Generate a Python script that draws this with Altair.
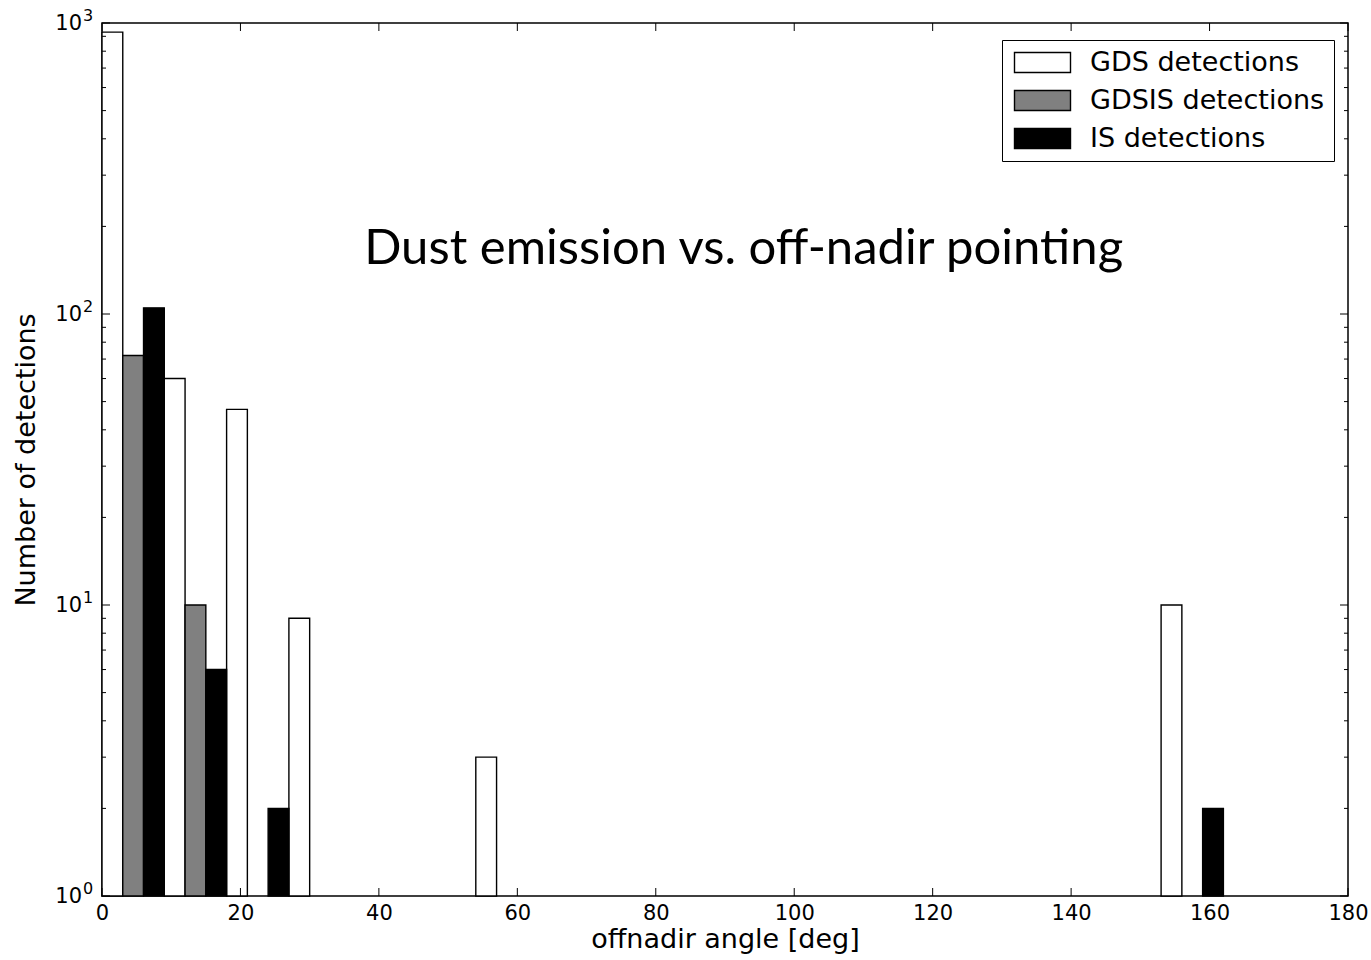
import altair as alt
import pandas as pd

# Histogram of detections per 9-degree off-nadir bin (only non-empty bins listed)
bin_start = [0, 9, 18, 27, 54, 153]
gds_counts = [930, 60, 47, 9, 3, 10]
gdsis_counts = [72, 10, 0, 0, 0, 0]
is_counts = [105, 6, 2, 0, 0, 2]

series_names = ["GDS detections", "GDSIS detections", "IS detections"]
series_colors = ["#ffffff", "#808080", "#000000"]

x_ticks = [0, 20, 40, 60, 80, 100, 120, 140, 160, 180]
y_major = [1, 10, 100, 1000]
y_minor = [m * 10 ** e for e in range(3) for m in range(2, 10)]

W, H = 1246, 873
BAR_W = 3  # each bin holds three side-by-side bars

rows = []
for i, (name, counts) in enumerate(zip(series_names, [gds_counts, gdsis_counts, is_counts])):
    for b, c in zip(bin_start, counts):
        if c > 0:
            rows.append({"series": name, "x0": b + i * BAR_W, "x1": b + (i + 1) * BAR_W, "count": c})
bars_df = pd.DataFrame(rows)

x_scale = alt.Scale(domain=[0, 180], nice=False, zero=False)
y_scale = alt.Scale(type="log", domain=[1, 1000], nice=False)

font = "DejaVu Sans"

bars = alt.Chart(bars_df).mark_bar(stroke="black", strokeWidth=1.4).encode(
    x=alt.X("x0:Q", scale=x_scale,
            axis=alt.Axis(values=x_ticks, ticks=False, domain=False, grid=False,
                          labelFontSize=21, labelPadding=6, labelFont=font,
                          labelFlush=False, labelOverlap=False,
                          title="offnadir angle [deg]", titleFontSize=27, titleFont=font,
                          titlePadding=3, titleFontWeight="normal")),
    x2="x1:Q",
    y=alt.Y("count:Q", scale=y_scale,
            axis=alt.Axis(values=y_major, ticks=False, domain=False, grid=False, labels=False,
                          title="Number of detections", titleFontSize=27, titleFont=font,
                          titlePadding=62, titleFontWeight="normal")),
    y2=alt.datum(1),
    fill=alt.Fill("series:N", scale=alt.Scale(domain=series_names, range=series_colors),
                  legend=alt.Legend(title=None, orient="none", legendX=900, legendY=17,
                                    symbolType="M-1,-1L4.6,-1L4.6,1L-1,1Z",
                                    symbolSize=400, symbolStrokeColor="black",
                                    symbolStrokeWidth=1.4, symbolOpacity=1,
                                    labelFontSize=27, labelFont=font, labelColor="black",
                                    labelOffset=52, labelLimit=0, rowPadding=10, padding=9,
                                    strokeColor="black", fillColor="white")),
)

# Inward-pointing tick marks on all four sides
xt = pd.DataFrame({"v": x_ticks})
ymaj = pd.DataFrame({"v": y_major})
ymin = pd.DataFrame({"v": y_minor})

def xticks(y_from, y_to):
    return alt.Chart(xt).mark_rule(color="black", strokeWidth=1).encode(
        x=alt.X("v:Q", scale=x_scale), y=alt.value(y_from), y2=alt.value(y_to))

def yticks(df, x_from, x_to):
    return alt.Chart(df).mark_rule(color="black", strokeWidth=1).encode(
        y=alt.Y("v:Q", scale=y_scale), x=alt.value(x_from), x2=alt.value(x_to))

ticks = [
    xticks(H, H - 8), xticks(0, 8),
    yticks(ymaj, 0, 8), yticks(ymaj, W, W - 8),
    yticks(ymin, 0, 4), yticks(ymin, W, W - 4),
]

# Power-of-ten tick labels: base "10" plus a raised exponent
ylab = alt.Chart(ymaj).transform_calculate(
    exp="format(round(log(datum.v) / LN10), 'd')"
)
ylab_base = ylab.mark_text(font=font, fontSize=21, color="black", align="right",
                           baseline="alphabetic", dy=7).encode(
    y=alt.Y("v:Q", scale=y_scale), x=alt.value(-20), text=alt.value("10"))
ylab_exp = ylab.mark_text(font=font, fontSize=16, color="black", align="left",
                          baseline="alphabetic", dx=1, dy=-2).encode(
    y=alt.Y("v:Q", scale=y_scale), x=alt.value(-20), text="exp:N")

title_text = alt.Chart(pd.DataFrame({"t": ["Dust emission vs. off-nadir pointing"]})).mark_text(
    font="Lato", fontSize=49, color="black", align="center", baseline="alphabetic"
).encode(
    x=alt.X("xp:Q", scale=x_scale),
    y=alt.Y("yp:Q", scale=y_scale),
    text="t:N",
).transform_calculate(xp="92.7", yp="148.6")

chart = alt.layer(bars, *ticks, ylab_base, ylab_exp, title_text).properties(
    width=W, height=H,
    autosize=alt.AutoSizeParams(type="none"),
    padding={"left": 102, "top": 23, "right": 23, "bottom": 64},
    background="white",
).configure_view(stroke="black", strokeWidth=1.5).configure_axis(
    labelColor="black", titleColor="black"
)

chart.save("out.html", embed_options={"renderer": "svg", "actions": False})
